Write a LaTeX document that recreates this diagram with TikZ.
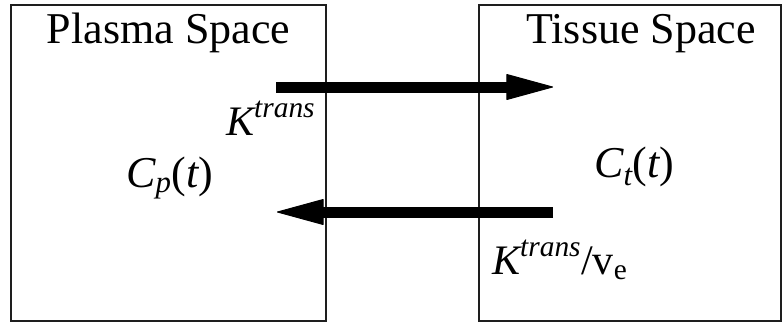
\documentclass[tikz,border=0pt]{standalone}
\usepackage{amsmath}
\usepackage{fontspec}
\setmainfont{LiberationSerif}[Extension=.ttf, UprightFont=*-Regular, ItalicFont=*-Italic, BoldFont=*-Bold, BoldItalicFont=*-BoldItalic]
\usepackage{tikz}
\usetikzlibrary{arrows.meta, positioning, calc}
\definecolor{boxLine}{RGB}{30,30,30}

\begin{document}
\begin{tikzpicture}[x=1pt, y=-1pt,
    compartment/.style={draw=boxLine, line width=1.2pt, inner sep=0pt},
    title/.style={anchor=base, inner sep=0pt, font=\rmfamily\fontsize{44}{50}\selectfont},
    conc/.style={anchor=base west, inner sep=0pt, font=\rmfamily\fontsize{44}{50}\selectfont},
    rate/.style={anchor=base west, inner sep=0pt, font=\rmfamily\fontsize{42}{48}\selectfont},
    flow/.style={line width=11pt, -{Triangle[length=48pt, width=26pt, line width=1pt, round]}}]
        \useasboundingbox (0,0) rectangle (783,322);
        % compartments
        \node[compartment, minimum width=315pt, minimum height=316pt] (plasma) at (168.5,163) {};
        \node[compartment, minimum width=302pt, minimum height=316pt] (tissue) at (630,163) {};
        \node[title] (plasmaTitle) at (168.5,43) {Plasma Space};
        \node[title] (tissueTitle) at (641,43) {Tissue Space};
        % concentrations
        \node[conc] (cp) at (126,187) {$\textit{C}_{\textit{p}}\textup{(}\textit{t}\textup{)}$};
        \node[conc] (ct) at (594,177) {$\textit{C}_{\textit{t}}\textup{(}\textit{t}\textup{)}$};
        % exchange rates
        \coordinate (outStart) at (276,87);
        \coordinate (outEnd) at (553,87);
        \coordinate (backStart) at (553,212);
        \coordinate (backEnd) at (277,212);
        \draw[flow] (outStart) -- (outEnd);
        \draw[flow] (backStart) -- (backEnd);
        \node[rate] (kOut) at (226,135) {$\textit{K}^{\textit{trans}}$};
        \node[rate] (kBack) at (492,274) {$\textit{K}^{\textit{trans}}\textup{/v}_{\textup{e}}$};
      \end{tikzpicture}
\end{document}
